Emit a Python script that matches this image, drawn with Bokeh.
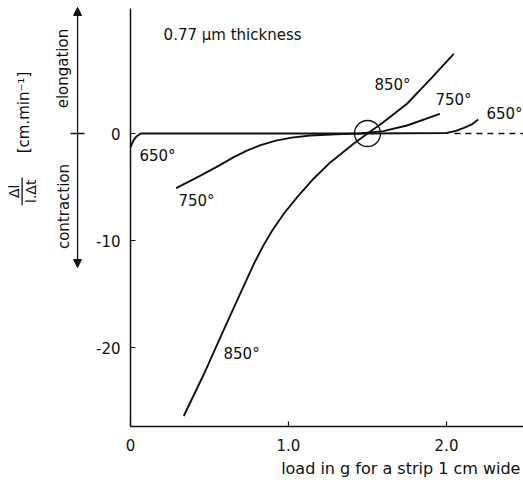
import math
from bokeh.plotting import figure
from bokeh.models import Range1d, Label, Arrow, NormalHead, FixedTicker
from bokeh.embed import file_html
from bokeh.resources import INLINE

# ---- data ----
x_850 = [0.337, 0.464, 0.57, 0.675, 0.78, 0.84, 0.897, 0.97, 1.055, 1.16, 1.266, 1.41, 1.50, 1.60, 1.75, 1.90, 2.046]
y_850 = [-26.4, -22.5, -19.0, -15.6, -12.2, -10.5, -9.07, -7.5, -5.95, -4.2, -2.68, -0.97, 0.0, 1.05, 2.78, 5.1, 7.45]

x_750 = [0.289, 0.443, 0.56, 0.654, 0.74, 0.823, 0.92, 1.02, 1.14, 1.3, 1.45, 1.60, 1.75, 1.958]
y_750 = [-5.11, -3.93, -3.0, -2.21, -1.58, -1.08, -0.66, -0.38, -0.19, -0.07, 0.0, 0.22, 0.75, 1.84]

x_650 = [0.0, 0.02, 0.04, 0.065, 0.1, 0.5, 1.0, 1.5, 2.0, 2.06, 2.11, 2.16, 2.2]
y_650 = [-1.3, -0.6, -0.25, 0.0, 0.0, 0.0, 0.0, 0.0, 0.05, 0.25, 0.53, 0.85, 1.31]

x_dash = [2.05, 2.49]
y_dash = [0.0, 0.0]

circle_x = [1.5]
circle_y = [0.0]

x_ticks = [0, 1, 2]
x_tick_labels = ["0", "1.0", "2.0"]
y_ticks = [0, -10, -20]
y_tick_labels = ["0", "-10", "-20"]

curve_labels = ["650°", "750°", "850°", "850°", "750°", "650°"]
label_x = [0.171, 0.418, 0.703, 1.658, 2.044, 2.367]
label_y = [-2.06, -6.26, -20.56, 4.49, 3.13, 1.82]

X_MIN, X_MAX = -0.8228, 2.4873
Y_MIN, Y_MAX = -33.08, 12.43
Y_AXIS_TOP = 11.68
X_AXIS_Y = -27.38

FONT = "DejaVu Sans"
INK = "#111111"

p = figure(width=523, height=487, output_backend="svg", toolbar_location=None,
           x_range=Range1d(X_MIN, X_MAX), y_range=Range1d(Y_MIN, Y_MAX),
           min_border_left=0, min_border_right=0, min_border_top=0, min_border_bottom=0)
p.outline_line_color = None
p.xgrid.grid_line_color = None
p.ygrid.grid_line_color = None
p.background_fill_color = "white"
p.border_fill_color = "white"

for ax in (p.xaxis[0], p.yaxis[0]):
    ax.axis_line_color = INK
    ax.axis_line_width = 1.5
    ax.major_tick_line_color = INK
    ax.major_tick_line_width = 1.2
    ax.major_tick_in = 5
    ax.major_tick_out = 0
    ax.minor_tick_line_color = None
    ax.major_label_text_font = FONT
    ax.major_label_text_font_size = "15px"
    ax.major_label_text_color = INK

xa = p.xaxis[0]
xa.fixed_location = X_AXIS_Y
xa.bounds = (0, X_MAX)
xa.ticker = FixedTicker(ticks=x_ticks)
xa.major_label_overrides = {t: l for t, l in zip(x_ticks, x_tick_labels)}
xa.major_label_standoff = 12

ya = p.yaxis[0]
ya.fixed_location = 0
ya.bounds = (X_AXIS_Y, Y_AXIS_TOP)
ya.ticker = FixedTicker(ticks=y_ticks)
ya.major_label_overrides = {t: l for t, l in zip(y_ticks, y_tick_labels)}
ya.major_label_standoff = 10

# curves
p.line(x_850, y_850, line_color=INK, line_width=1.9)
p.line(x_750, y_750, line_color=INK, line_width=1.9)
p.line(x_650, y_650, line_color=INK, line_width=1.9)
p.line(x_dash, y_dash, line_color=INK, line_width=1.3, line_dash="6 5")
p.scatter(circle_x, circle_y, marker="circle", size=26, fill_color=None,
          line_color=INK, line_width=1.3)

for t, lx, ly in zip(curve_labels, label_x, label_y):
    p.add_layout(Label(x=lx, y=ly, text=t, text_font=FONT, text_font_size="15px",
                       text_color=INK, text_align="center", text_baseline="middle"))

p.add_layout(Label(x=0.646, y=9.16, text="0.77 μm thickness", text_font=FONT,
                   text_font_size="15px", text_color=INK,
                   text_align="center", text_baseline="middle"))

p.add_layout(Label(x=2.468, y=-31.3, text="load in g for a strip 1 cm wide",
                   text_font=FONT, text_font_size="16px", text_color=INK,
                   text_align="right", text_baseline="middle"))

# y-axis description (left side)
rot = math.pi / 2
def vlabel(x, y, text, size):
    p.add_layout(Label(x=x, y=y, text=text, angle=rot, text_font=FONT,
                       text_font_size=size, text_color=INK,
                       text_align="center", text_baseline="middle"))

vlabel(-0.430, 6.07, "elongation", "15px")
vlabel(-0.418, -6.82, "contraction", "15px")
vlabel(-0.671, 1.96, "[cm.min⁻¹]", "15px")
vlabel(-0.735, -5.4, "Δl", "14px")
vlabel(-0.632, -5.4, "l.Δt", "14px")
p.add_layout(Arrow(x_start=-0.686, y_start=-4.1, x_end=-0.686, y_end=-6.7,
                   line_color=INK, line_width=1.3, end=None, start=None))

p.add_layout(Arrow(x_start=-0.335, y_start=0, x_end=-0.335, y_end=11.78,
                   line_color=INK, line_width=1.3,
                   end=NormalHead(size=8, fill_color=INK, line_color=INK), start=None))
p.add_layout(Arrow(x_start=-0.335, y_start=0, x_end=-0.335, y_end=-12.52,
                   line_color=INK, line_width=1.3,
                   end=NormalHead(size=8, fill_color=INK, line_color=INK), start=None))
p.add_layout(Arrow(x_start=-0.38, y_start=0, x_end=-0.291, y_end=0,
                   line_color=INK, line_width=1.3, end=None, start=None))

open("out.html", "w").write(file_html(p, INLINE))
